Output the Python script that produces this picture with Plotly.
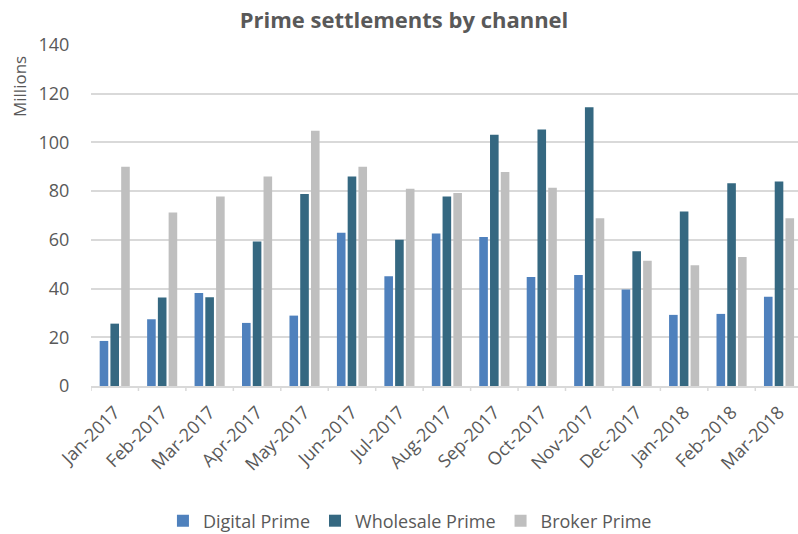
import plotly.graph_objects as go

months = ["Jan-2017", "Feb-2017", "Mar-2017", "Apr-2017", "May-2017", "Jun-2017",
          "Jul-2017", "Aug-2017", "Sep-2017", "Oct-2017", "Nov-2017", "Dec-2017",
          "Jan-2018", "Feb-2018", "Mar-2018"]
digital = [18.5, 27.4, 38.2, 25.9, 28.9, 62.9, 45.1, 62.6, 61.2, 44.7, 45.6, 39.6, 29.2, 29.6, 36.6]
wholesale = [25.6, 36.3, 36.4, 59.3, 78.8, 86.0, 60.0, 77.8, 103.2, 105.3, 114.4, 55.3, 71.6, 83.2, 84.0]
broker = [90.0, 71.2, 77.8, 86.0, 104.8, 90.0, 81.0, 79.2, 87.9, 81.4, 68.9, 51.4, 49.6, 53.0, 68.9]

y_ticks = [0, 20, 40, 60, 80, 100, 120, 140]

FONT = "Open Sans"
GREY = "#595959"
AXIS = "#D9D9D9"

W, H = 798, 534
ML, MT, MB = 91, 45, 148
PH = H - MT - MB
PW = W - ML

fig = go.Figure()
for name, vals, col in [("Digital Prime", digital, "#4F81BD"),
                        ("Wholesale Prime", wholesale, "#356881"),
                        ("Broker Prime", broker, "#BFBFBF")]:
    fig.add_trace(go.Bar(x=months, y=vals, name=name, marker_color=col,
                         marker_line_width=0))

# visible category boundary tick marks
shapes = [dict(type="line", xref="x", yref="paper", x0=i - 0.5, x1=i - 0.5,
               y0=0, y1=-5 / PH, line=dict(color=AXIS, width=1.5))
          for i in range(len(months) + 1)]

fig.update_layout(
    width=W, height=H,
    margin=dict(l=ML, r=0, t=MT, b=MB, autoexpand=False),
    plot_bgcolor="white", paper_bgcolor="white",
    barmode="group", bargap=0.32, bargroupgap=0.2,
    font=dict(family=FONT, color=GREY, size=16),
    title=dict(text="<b>Prime settlements by channel</b>", x=404 / W, xref="container",
               xanchor="center", y=1 - 20 / H, yref="container", yanchor="middle",
               font=dict(size=22, color=GREY, family=FONT)),
    legend=dict(orientation="h", x=360 / W, xref="paper", xanchor="center",
                y=(PH - (521 - MT)) / PH, yanchor="middle",
                font=dict(size=18, color=GREY), itemwidth=30, traceorder="normal"),
    xaxis=dict(tickangle=-45, showline=True, linecolor=AXIS, linewidth=1.5,
               ticks="outside", tickcolor="rgba(0,0,0,0)", ticklen=7,
               range=[-0.5, 14.4], automargin=False,
               tickfont=dict(size=18, color=GREY)),
    yaxis=dict(range=[0, 140], tickvals=y_ticks, showgrid=True, gridcolor=AXIS,
               gridwidth=1.5, zeroline=False, tickfont=dict(size=18, color=GREY),
               ticks="outside", ticklen=17, tickcolor="rgba(0,0,0,0)", automargin=False),
    shapes=shapes,
    annotations=[dict(text="Millions", xref="paper", yref="paper",
                      x=(19 - ML) / PW, y=(PH - (87 - MT)) / PH,
                      xanchor="center", yanchor="middle",
                      showarrow=False, textangle=-90,
                      font=dict(size=17, color=GREY))],
)

fig.write_html("out.html", config={"displayModeBar": False},
               post_script="document.body.style.margin='0';document.body.style.overflow='hidden';")
